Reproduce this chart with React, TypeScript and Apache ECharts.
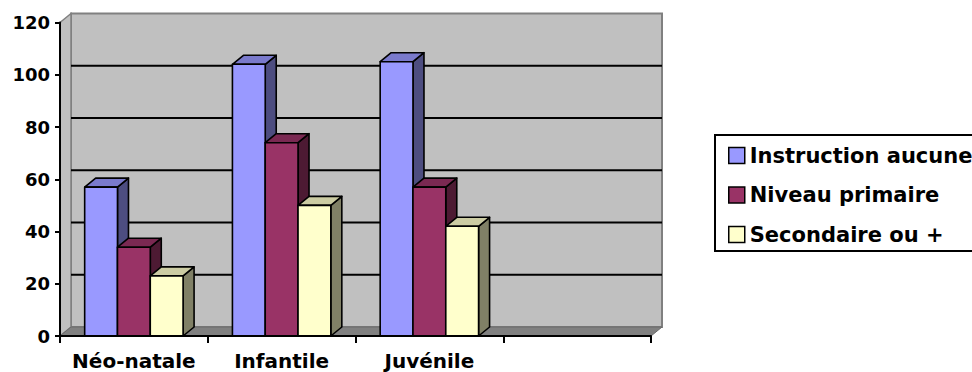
import React, { useEffect, useRef } from "react";
import * as echarts from "echarts";

const categories = ["Néo-natale", "Infantile", "Juvénile", ""];
const seriesNames = ["Instruction aucune", "Niveau primaire", "Secondaire ou +"];
const instructionAucune = [57, 104, 105];
const niveauPrimaire = [34, 74, 57];
const secondaire = [23, 50, 42];
const gridValues = [20, 40, 60, 80, 100];

const FRONT = ["#9999FF", "#993366", "#FFFFCC"];
const TOP = ["#7A7ACC", "#7A2952", "#CCCCA3"];
const SIDE = ["#4D4D80", "#4D1A33", "#808066"];
const DX = 11;
const DY = -9;
const FONT = "DejaVu Sans";

export default function App() {
  const ref = useRef<HTMLDivElement>(null);
  useEffect(() => {
    if (!ref.current) return;
    const chart = echarts.init(ref.current, null, { renderer: "svg" });
    const allSeries = [instructionAucune, niveauPrimaire, secondaire];

    const barSeries = allSeries.map((vals, si) => ({
      type: "custom",
      name: seriesNames[si],
      z: 3,
      itemStyle: { color: FRONT[si] },
      data: vals.map((v, i) => [i, v]),
      renderItem: (params: any, api: any) => {
        const cat = api.value(0);
        const val = api.value(1);
        const base = api.coord([cat, 0]);
        const topPt = api.coord([cat, val]);
        const band = api.size([1, 0])[0];
        const bw = band * 0.222;
        const x0 = base[0] - 1.5 * bw + si * bw;
        const yT = topPt[1];
        const yB = base[1];
        const stroke = { stroke: "#000", lineWidth: 1.6, lineJoin: "round" };
        return {
          type: "group",
          children: [
            {
              type: "polygon",
              shape: { points: [[x0 + bw, yT], [x0 + bw + DX, yT + DY], [x0 + bw + DX, yB + DY], [x0 + bw, yB]] },
              style: { fill: SIDE[si], ...stroke },
            },
            {
              type: "polygon",
              shape: { points: [[x0, yT], [x0 + DX, yT + DY], [x0 + bw + DX, yT + DY], [x0 + bw, yT]] },
              style: { fill: TOP[si], ...stroke },
            },
            {
              type: "rect",
              shape: { x: x0, y: yT, width: bw, height: yB - yT },
              style: { fill: FRONT[si], ...stroke },
            },
          ],
        };
      },
    }));

    const sceneSeries = {
      type: "custom",
      name: "scene",
      z: 1,
      silent: true,
      data: [[0, 0]],
      renderItem: (params: any, api: any) => {
        const cs = params.coordSys;
        const L = cs.x, T = cs.y, R = cs.x + cs.width, B = cs.y + cs.height;
        const children: any[] = [
          {
            type: "rect",
            shape: { x: L + DX, y: T + DY, width: cs.width, height: cs.height },
            style: { fill: "#C0C0C0", stroke: "#808080", lineWidth: 2 },
          },
          {
            type: "polygon",
            shape: { points: [[L, T], [L + DX, T + DY], [L + DX, B + DY], [L, B]] },
            style: { fill: "#C0C0C0", stroke: "#808080", lineWidth: 1.5 },
          },
        ];
        gridValues.forEach((v) => {
          const y = api.coord([0, v])[1] + DY;
          children.push({
            type: "line",
            shape: { x1: L + DX, y1: y, x2: R + DX, y2: y },
            style: { stroke: "#000", lineWidth: 2 },
          });
        });
        children.push({
          type: "polygon",
          shape: { points: [[L, B], [L + DX, B + DY], [R + DX, B + DY], [R, B]] },
          style: { fill: "#808080", stroke: "#6a6a6a", lineWidth: 1 },
        });
        return { type: "group", children };
      },
    };

    chart.setOption({
      animation: false,
      grid: { left: 60, top: 22.5, width: 591, height: 313.5, containLabel: false },
      xAxis: {
        type: "category",
        data: categories,
        boundaryGap: true,
        z: 10,
        axisLine: { lineStyle: { color: "#000", width: 2 } },
        axisTick: { show: true, length: 7, interval: 0, lineStyle: { color: "#000", width: 2 } },
        axisLabel: { interval: 0, color: "#000", fontFamily: FONT, fontWeight: "bold", fontSize: 20, margin: 15 },
        splitLine: { show: false },
      },
      yAxis: {
        type: "value",
        min: 0,
        max: 120,
        interval: 20,
        z: 10,
        axisLine: { show: true, lineStyle: { color: "#000", width: 2 } },
        axisTick: { show: true, length: 5, lineStyle: { color: "#000", width: 2 } },
        axisLabel: { color: "#000", fontFamily: FONT, fontWeight: "bold", fontSize: 18, margin: 10 },
        splitLine: { show: false },
      },
      legend: {
        orient: "vertical",
        left: 723,
        top: 140,
        itemWidth: 16,
        itemHeight: 16,
        itemGap: 18.5,
        icon: "rect",
        data: seriesNames,
        itemStyle: { borderColor: "#000", borderWidth: 1.5 },
        textStyle: { color: "#000", fontFamily: FONT, fontWeight: "bold", fontSize: 21 },
      },
      graphic: [
        {
          type: "rect",
          z: -1,
          shape: { x: 715, y: 135, width: 280, height: 116 },
          style: { fill: "#fff", stroke: "#000", lineWidth: 2 },
        },
      ],
      series: [sceneSeries, ...barSeries],
    });
    return () => chart.dispose();
  }, []);
  return <div ref={ref} style={{ position: "absolute", left: 0, top: 0, width: 972, height: 372 }} />;
}
